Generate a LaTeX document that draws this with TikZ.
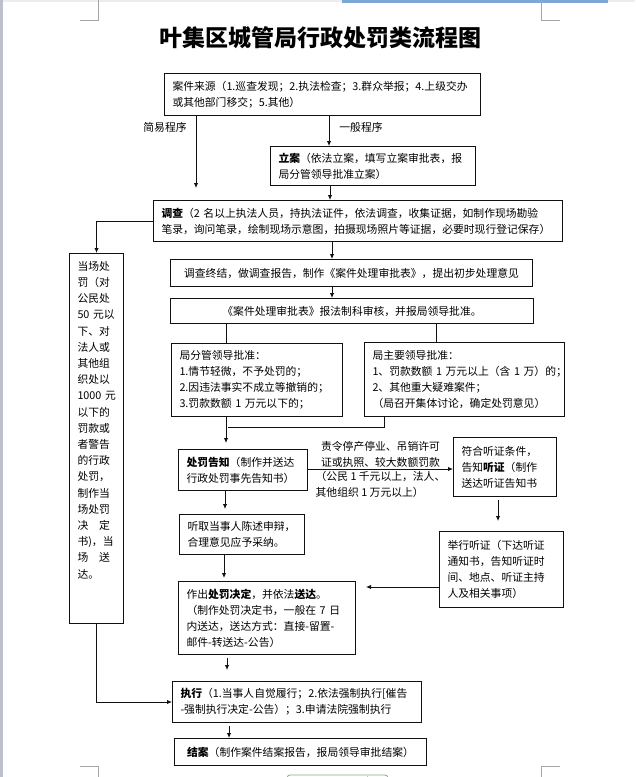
\documentclass[tikz,border=0pt]{standalone}
\usepackage{fontspec}
\setmainfont{Noto Sans CJK SC}
\usepackage{tikz}
\usetikzlibrary{arrows.meta,positioning,calc}
\definecolor{Ink}{HTML}{111111}
\definecolor{Frame}{HTML}{A6A6A6}
\definecolor{Band}{HTML}{EDEDED}
\definecolor{Rule}{HTML}{7EA6D8}
\definecolor{Side}{HTML}{BDC0CA}
\definecolor{Tab}{HTML}{7FB069}

\begin{document}
\begin{tikzpicture}[
  x=1pt,y=-1pt,
  box/.style={draw=Ink,line width=1pt,anchor=north west,inner xsep=8pt,inner ysep=0pt,align=left,font=\fontsize{10.8}{16}\selectfont},
  lbl/.style={font=\fontsize{10.8}{16}\selectfont,inner sep=0pt},
  arrow/.style={-{Latex[length=5pt,width=4.5pt]},line width=0.9pt,draw=Ink},
  link/.style={line width=0.9pt,draw=Ink},
  corner/.style={draw=Frame,line width=0.8pt}
]
\useasboundingbox (0,0) rectangle (635,777);
\fill[white] (0,0) rectangle (635,777);
\fill[Band] (0,0) rectangle (635,2);
\fill[Rule] (342,0) rectangle (608,2.5);
\fill[Side] (0,0) rectangle (3,777);
\draw[corner] (80,20) -- (98,20) -- (98,0);
\draw[corner] (541,0) -- (541,20) -- (560,20);
\draw[corner] (80,766) -- (98,766) -- (98,777);
\draw[corner] (560,766) -- (541,766) -- (541,777);
\draw[Tab,line width=0.8pt,rounded corners=3pt] (287,775) rectangle (388,790);
\draw[Tab!60,line width=0.6pt] (367,776) -- (367,777);

\node[font=\bfseries\fontsize{23}{23}\selectfont] (title) at (320,38) {叶集区城管局行政处罚类流程图};

\node[box,minimum width=316pt,minimum height=42pt,text width=300pt] (src) at (164,73) {案件来源（1.巡查发现；2.执法检查；3.群众举报；4.上级交办\\或其他部门移交；5.其他）};
\node[lbl] (jianyi) at (165,127) {简易程序};
\node[lbl] (yiban) at (361,127) {一般程序};
\node[box,minimum width=205pt,minimum height=39pt,text width=189pt] (lian) at (270,146) {\textbf{立案}（依法立案，填写立案审批表，报\\局分管领导批准立案）};
\node[box,minimum width=409pt,minimum height=41pt,text width=393pt] (diaocha) at (153,200) {\textbf{调查}（2~名以上执法人员，持执法证件，依法调查，收集证据，如制作现场勘验\\笔录，询问笔录，绘制现场示意图，拍摄现场照片等证据，必要时现行登记保存）};
\node[box,minimum width=54pt,minimum height=370pt,text width=38pt,font=\fontsize{10.8}{16.2}\selectfont] (dangchang) at (69,253) {当场处\\罚（对\\公民处\\50~元以\\下、对\\法人或\\其他组\\织处以\\1000~元\\以下的\\罚款或\\者警告\\的行政\\处罚，\\制作当\\场处罚\\决　定\\书)，当\\场　送\\达。\\\rule{0pt}{36pt}};
\node[box,align=center,minimum width=362pt,minimum height=27pt,text width=346pt] (jieguo) at (170,259) {调查终结，做调查报告，制作《案件处理审批表》，提出初步处理意见};
\node[box,align=center,minimum width=363pt,minimum height=25pt,text width=347pt] (shenpi) at (170,298) {《案件处理审批表》报法制科审核，并报局领导批准。};
\node[box,minimum width=171pt,minimum height=73pt,text width=155pt] (fenguan) at (171,343) {局分管领导批准：\\1.情节轻微，不予处罚的；\\2.因违法事实不成立等撤销的；\\3.罚款数额~1~万元以下的；};
\node[box,minimum width=200pt,minimum height=74pt,text width=184pt] (zhuyao) at (364,342) {局主要领导批准：\\1、罚款数额~1~万元以上（含~1~万）的；\\2、其他重大疑难案件；\\（局召开集体讨论，确定处罚意见）};
\node[box,minimum width=129pt,minimum height=41pt,text width=113pt] (gaozhi) at (178,449) {\textbf{处罚告知}（制作并送达\\行政处罚事先告知书）};
\node[box,minimum width=103pt,minimum height=59pt,text width=87pt] (tingzheng) at (453,437) {符合听证条件，\\告知\textbf{听证}（制作\\送达听证告知书};
\node[box,minimum width=124pt,minimum height=76pt,text width=108pt] (juxing) at (439,531) {举行听证（下达听证\\通知书，告知听证时\\间、地点、听证主持\\人及相关事项）};
\node[box,minimum width=125pt,minimum height=40pt,text width=109pt] (tingqu) at (179,514) {听取当事人陈述申辩，\\合理意见应予采纳。};
\node[box,minimum width=177pt,minimum height=73pt,text width=161pt] (jueding) at (178,581) {作出\textbf{处罚决定}，并依法\textbf{送达}。\\（制作处罚决定书，一般在~7~日\\内送达，送达方式：直接-留置-\\邮件-转送达-公告）};
\node[box,minimum width=249pt,minimum height=41pt,text width=233pt] (zhixing) at (172,681) {\textbf{执行}（1.当事人自觉履行；2.依法强制执行[催告\\-强制执行决定-公告）；3.申请法院强制执行};
\node[box,align=center,inner xsep=6pt,minimum width=252pt,minimum height=27pt,text width=240pt] (jiean) at (174,738) {\textbf{结案}（制作案件结案报告，报局领导审批结案）};

\draw[arrow] (src.south -| 329,0) -- (lian.north -| 329,0);
\draw[arrow,shorten >=12pt] (src.south -| 196,0) -- (diaocha.north -| 196,0);
\draw[arrow] (lian.south -| 330,0) -- (diaocha.north -| 330,0);
\draw[arrow] (diaocha.west) -| (dangchang.north);
\draw[arrow] (diaocha.south -| 332,0) -- (jieguo.north -| 332,0);
\draw[arrow] (jieguo.south -| 332,0) -- (shenpi.north -| 332,0);
\draw[link] (shenpi.south -| 226,0) -- (fenguan.north -| 226,0);
\draw[link] (shenpi.south -| 436,0) -- (zhuyao.north -| 436,0);
\draw[arrow,shorten >=6pt] (fenguan.south -| 226,0) -- (gaozhi.north -| 226,0);
\coordinate (merge) at (228,427);
\draw[link] (zhuyao.south -| 384,0) |- (merge);
\draw[arrow] (gaozhi.east |- 0,469) -- (tingzheng.west |- 0,469)
  node[lbl,midway,above,align=left,inner sep=1pt] (why) {责令停产停业、吊销许可\\证或执照、较大数额罚款}
  node[lbl,midway,below,align=left,inner sep=2pt] (limit) {（公民~1~千元以上，法人、\\其他组织~1~万元以上）};
\draw[arrow,shorten <=3pt,shorten >=10pt] (tingzheng.south -| 498,0) -- (juxing.north -| 498,0);
\draw[arrow,shorten >=5pt] (gaozhi.south -| 225,0) -- (tingqu.north -| 225,0);
\draw[arrow,shorten >=3pt] (tingqu.south -| 224,0) -- (jueding.north -| 224,0);
\draw[arrow,shorten >=10pt] (juxing.west |- 0,587) -- (jueding.east |- 0,587);
\draw[arrow,shorten <=3pt,shorten >=11pt] (jueding.south -| 227,0) -- (zhixing.north -| 227,0);
\draw[arrow] (dangchang.south) |- (zhixing.west);
\draw[arrow,shorten <=3pt] (zhixing.south -| 229,0) -- (jiean.north -| 229,0);
\end{tikzpicture}
\end{document}
